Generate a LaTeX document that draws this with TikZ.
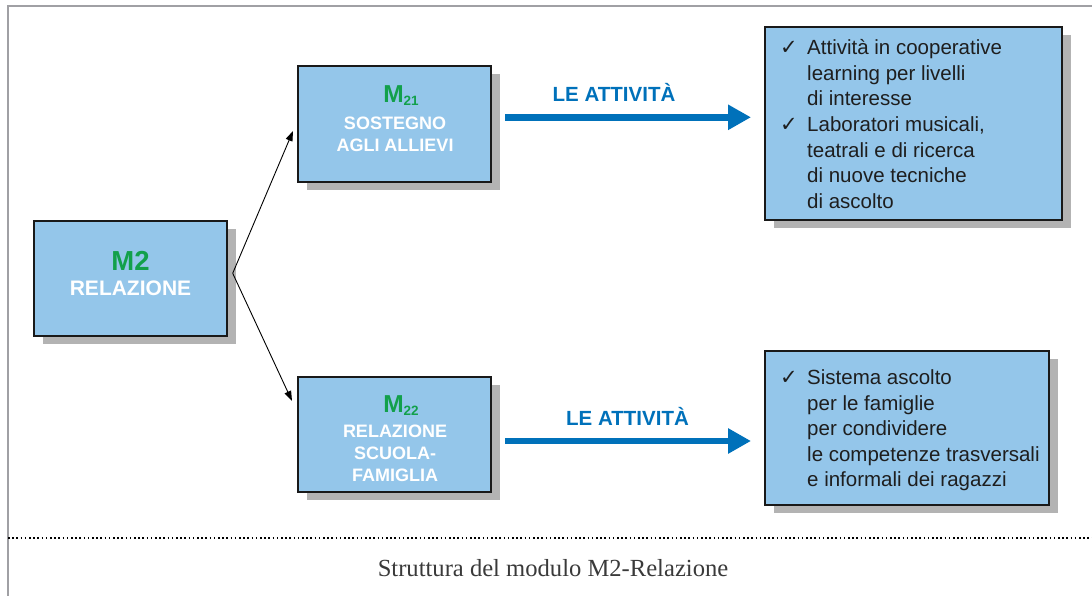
\documentclass[tikz,border=0pt]{standalone}
\usepackage{fontspec}
\setmainfont{Liberation Serif}
\setsansfont{Liberation Sans}
\newfontfamily\symb{DejaVu Sans}
\usetikzlibrary{shadows,arrows.meta}
\definecolor{boxblue}{HTML}{94C6EA}
\definecolor{mgreen}{HTML}{12A04B}
\definecolor{arrblue}{HTML}{0071BA}
\definecolor{shadowgray}{HTML}{B3B3B3}
\definecolor{framegray}{HTML}{A0A0A4}
\definecolor{captiongray}{HTML}{3A3A3A}
\definecolor{bodytext}{HTML}{1E1E1E}
\begin{document}
\begin{tikzpicture}[x=1pt,y=-1pt,
  modbox/.style={draw=black!90, line width=1.2pt, fill=boxblue, inner sep=0pt,
    drop shadow={shadow xshift=9pt, shadow yshift=-8pt, fill=shadowgray, opacity=1}},
  mtitle/.style={anchor=base, inner sep=0pt, font=\sffamily\bfseries, text=mgreen},
  mlabel/.style={anchor=base, inner sep=0pt, font=\sffamily\bfseries\fontsize{18}{18}\selectfont, text=white},
  listline/.style={anchor=base west, inner sep=0pt, font=\sffamily\fontsize{20.5}{20.5}\selectfont, text=bodytext},
  checkmark/.style={anchor=base west, inner sep=0pt, font=\symb\fontsize{21}{21}\selectfont, text=bodytext},
  actlabel/.style={anchor=base, inner sep=0pt, font=\sffamily\bfseries\fontsize{20.5}{20.5}\selectfont, text=arrblue},
  actarrow/.style={draw=arrblue, line width=6.5pt, -{Triangle[length=23pt,width=24pt]}},
  linkarrow/.style={draw=black, line width=0.9pt, -{Triangle[length=10pt,width=7pt]}},
  framerule/.style={draw=framegray, line width=2pt}
]
\useasboundingbox (0,0) rectangle (1092,596);

% frame
\coordinate (ftl) at (8,6);
\coordinate (ftr) at (1092,6);
\coordinate (fbl) at (8,596);
\draw[framerule] (fbl) -- (ftl) -- (ftr);
\coordinate (dl) at (8,538);
\coordinate (dr) at (1092,538);
\draw[black, line width=1.6pt, dash pattern=on 1.6pt off 2.6pt] (dl) -- (dr);
\node[anchor=base, inner sep=0pt, font=\fontsize{24.6}{24.6}\selectfont, text=captiongray] (caption) at (553,576) {Struttura del modulo M2-Relazione};

% boxes
\node[modbox, minimum width=193pt, minimum height=115pt] (m2) at (130.5,278.5) {};
\node[modbox, minimum width=193pt, minimum height=116pt] (m21) at (394.5,124) {};
\node[modbox, minimum width=193pt, minimum height=115pt] (m22) at (394.5,434.5) {};
\node[modbox, minimum width=297pt, minimum height=193pt] (tr) at (913.5,123.5) {};
\node[modbox, minimum width=284pt, minimum height=154pt] (br) at (907,428) {};

% M2 texts
\node[mtitle, font=\sffamily\bfseries\fontsize{27.5}{27.5}\selectfont] (m2a) at (130.5,270.5) {M2};
\node[mlabel, font=\sffamily\bfseries\fontsize{21}{21}\selectfont] (m2b) at (130.5,295) {RELAZIONE};

% M21 texts
\node[mtitle, font=\sffamily\bfseries\fontsize{24.5}{24.5}\selectfont] (m21a) at (401,102.3) {M\raisebox{-3pt}{\fontsize{13.5}{13.5}\selectfont 21}};
\node[mlabel] (m21b) at (395,129.3) {SOSTEGNO};
\node[mlabel] (m21c) at (395,151.7) {AGLI ALLIEVI};

% M22 texts
\node[mtitle, font=\sffamily\bfseries\fontsize{24.5}{24.5}\selectfont] (m22a) at (401,412.3) {M\raisebox{-3pt}{\fontsize{13.5}{13.5}\selectfont 22}};
\node[mlabel] (m22b) at (395,437.3) {RELAZIONE};
\node[mlabel] (m22c) at (395,459.5) {SCUOLA-};
\node[mlabel] (m22d) at (395,481.7) {FAMIGLIA};

% top right list
\node[checkmark] (c1) at (780,55) {✓};
\node[listline] (t1) at (807,55) {Attività in cooperative};
\node[listline] (t2) at (807,80.5) {learning per livelli};
\node[listline] (t3) at (807,106) {di interesse};
\node[checkmark] (c2) at (780,132) {✓};
\node[listline] (t4) at (807,132) {Laboratori musicali,};
\node[listline] (t5) at (807,157.5) {teatrali e di ricerca};
\node[listline] (t6) at (807,183) {di nuove tecniche};
\node[listline] (t7) at (807,208.5) {di ascolto};

% bottom right list
\node[checkmark] (c3) at (780,384.5) {✓};
\node[listline] (b1) at (807,384.5) {Sistema ascolto};
\node[listline] (b2) at (807,410) {per le famiglie};
\node[listline] (b3) at (807,435.5) {per condividere};
\node[listline] (b4) at (807,461) {le competenze trasversali};
\node[listline] (b5) at (807,486.5) {e informali dei ragazzi};

% fork connectors
\coordinate (fork) at (232.7,273.3);
\coordinate (tip1) at (293,131);
\coordinate (tip2) at (292,401);
\draw[linkarrow] (fork) -- (tip1);
\draw[linkarrow] (fork) -- (tip2);

% activity arrows
\coordinate (a1s) at (505,117.3);
\coordinate (a1e) at (751,117.3);
\coordinate (a2s) at (505,441);
\coordinate (a2e) at (751,441);
\draw[actarrow] (a1s) -- (a1e);
\draw[actarrow] (a2s) -- (a2e);
\node[actlabel] (l1) at (614,101.7) {LE ATTIVITÀ};
\node[actlabel] (l2) at (627.5,425) {LE ATTIVITÀ};
\end{tikzpicture}
\end{document}
